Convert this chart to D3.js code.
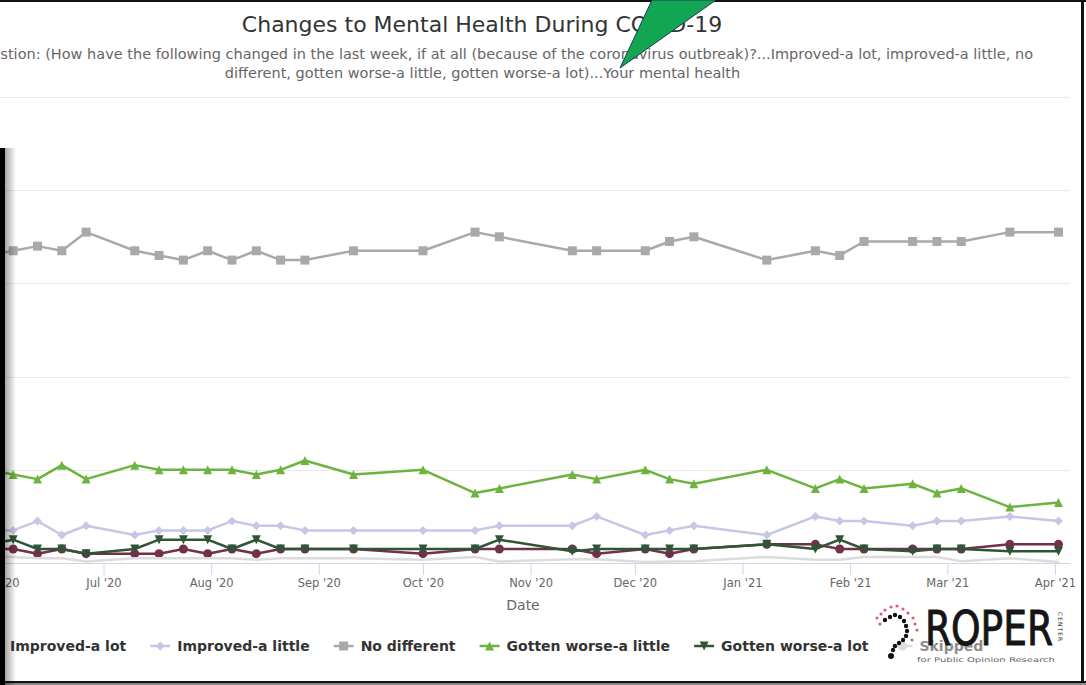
<!DOCTYPE html>
<html>
<head>
<meta charset="utf-8">
<script src="https://d3js.org/d3.v7.min.js"></script>
<style>
    body { margin: 0; background: #fff; }
    svg { display: block; font-family: "DejaVu Sans", sans-serif; }
    .grid line { stroke: #e9e9e9; stroke-width: 1; }
    .x.axis line { stroke: #ccd6eb; }
    .x.axis text { fill: #666; font-size: 11.5px; font-family: "DejaVu Sans", sans-serif; }
    .legend text { font-weight: bold; font-size: 14px; fill: #333; }
</style>
</head>
<body>
<div id="chart"></div>
<script>
    // survey waves (first one sits just left of the visible area)
    var dates = ["2020-05-29", "2020-06-05", "2020-06-12", "2020-06-19", "2020-06-26",
        "2020-07-10", "2020-07-17", "2020-07-24", "2020-07-31", "2020-08-07",
        "2020-08-14", "2020-08-21", "2020-08-28", "2020-09-11", "2020-10-01",
        "2020-10-16", "2020-10-23", "2020-11-13", "2020-11-20", "2020-12-04",
        "2020-12-11", "2020-12-18", "2021-01-08", "2021-01-22", "2021-01-29",
        "2021-02-05", "2021-02-19", "2021-02-26", "2021-03-05", "2021-03-19",
        "2021-04-02"];

    var improvedLot    = [3, 3, 2, 3, 2, 2, 2, 3, 2, 3, 2, 3, 3, 3, 2, 3, 3, 3, 2, 3, 2, 3, 4, 4, 3, 3, 3, 3, 3, 4, 4];
    var improvedLittle = [7, 7, 9, 6, 8, 6, 7, 7, 7, 9, 8, 8, 7, 7, 7, 7, 8, 8, 10, 6, 7, 8, 6, 10, 9, 9, 8, 9, 9, 10, 9];
    var noDifferent    = [66, 67, 68, 67, 71, 67, 66, 65, 67, 65, 67, 65, 65, 67, 67, 71, 70, 67, 67, 67, 69, 70, 65, 67, 66, 69, 69, 69, 69, 71, 71];
    var worseLittle    = [20, 19, 18, 21, 18, 21, 20, 20, 20, 20, 19, 20, 22, 19, 20, 15, 16, 19, 18, 20, 18, 17, 20, 16, 18, 16, 17, 15, 16, 12, 13];
    var worseLot       = [4, 5, 3, 3, 2, 3, 5, 5, 5, 3, 5, 3, 3, 3, 3, 3, 5, 2.5, 3, 3, 3, 3, 4, 3, 5, 3, 2.5, 3, 3, 2.5, 2.5];
    var skipped        = [1.3, 1.3, 1, 1, 0.3, 1, 1, 1, 1, 1, 0.7, 1, 1, 1, 0.7, 1.3, 0.3, 0.8, 0.8, 0.2, 0.3, 0.4, 1.3, 0.7, 0.7, 1.3, 1.3, 1.3, 0.4, 1, 0.2];

    var seriesNames = ["Improved-a lot", "Improved-a little", "No different",
        "Gotten worse-a little", "Gotten worse-a lot", "Skipped"];
    var seriesValues = [improvedLot, improvedLittle, noDifferent, worseLittle, worseLot, skipped];

    var yTicks = [0, 20, 40, 60, 80, 100];
    var monthTicks = ["2020-06-01", "2020-07-01", "2020-08-01", "2020-09-01", "2020-10-01",
        "2020-11-01", "2020-12-01", "2021-01-01", "2021-02-01", "2021-03-01", "2021-04-01"];

    // look of each series, same order as seriesNames
    var styles = [
        { color: "#72304b", marker: "circle" },
        { color: "#c9c5e6", marker: "diamond" },
        { color: "#a9a9a9", marker: "square" },
        { color: "#6cb43f", marker: "triangle" },
        { color: "#2f5634", marker: "triangle-down" },
        { color: "#dcdcdc", marker: null }
    ];

    var width = 1086, height = 685;
    var svg = d3.select("#chart").append("svg")
        .attr("width", width)
        .attr("height", height);

    var parse = d3.utcParse("%Y-%m-%d");
    var dateObjs = dates.map(parse);

    var x = d3.scaleUtc()
        .domain([parse("2020-07-01"), parse("2021-04-01")])
        .range([103.5, 1055]);
    var y = d3.scaleLinear()
        .domain([0, 100])
        .range([563, 97]);
    var plotRight = 1070;

    // horizontal grid
    svg.append("g").attr("class", "grid")
        .selectAll("line").data(yTicks).enter().append("line")
        .attr("x1", 0).attr("x2", plotRight)
        .attr("y1", function (d) { return Math.round(y(d)) + 0.5; })
        .attr("y2", function (d) { return Math.round(y(d)) + 0.5; });

    // x axis
    var xAxis = d3.axisBottom(x)
        .tickValues(monthTicks.map(parse))
        .tickSize(12)
        .tickSizeOuter(0)
        .tickPadding(4)
        .tickFormat(d3.utcFormat("%b '%y"));
    var gx = svg.append("g")
        .attr("class", "x axis")
        .attr("transform", "translate(0," + y(0) + ")")
        .call(xAxis);
    gx.select(".domain").remove();
    gx.append("line").attr("x1", 0).attr("x2", plotRight).attr("y1", 0.5).attr("y2", 0.5);

    svg.append("text")
        .attr("x", 523).attr("y", 610)
        .attr("text-anchor", "middle")
        .style("font-size", "14px").style("fill", "#666")
        .text("Date");

    // marker shapes, r is half the box size
    function markerPath(type, r) {
        if (type === "diamond") return "M0," + (-r) + "L" + r + ",0L0," + r + "L" + (-r) + ",0Z";
        if (type === "square") return "M" + (-r) + "," + (-r) + "h" + (2 * r) + "v" + (2 * r) + "h" + (-2 * r) + "Z";
        if (type === "triangle") return "M0," + (-r) + "L" + r + "," + r + "L" + (-r) + "," + r + "Z";
        if (type === "triangle-down") return "M" + (-r) + "," + (-r) + "L" + r + "," + (-r) + "L0," + r + "Z";
        return d3.symbol().type(d3.symbolCircle).size(Math.PI * r * r)();
    }

    var line = d3.line()
        .x(function (d, i) { return x(dateObjs[i]); })
        .y(function (d) { return y(d); });

    seriesValues.forEach(function (vals, k) {
        var st = styles[k];
        var g = svg.append("g").attr("class", "series");
        g.append("path")
            .attr("d", line(vals))
            .attr("fill", "none")
            .attr("stroke", st.color)
            .attr("stroke-width", 2.5)
            .attr("stroke-linejoin", "round")
            .attr("stroke-linecap", "round");
        if (st.marker) {
            g.selectAll("path.pt").data(vals).enter().append("path")
                .attr("class", "pt")
                .attr("d", markerPath(st.marker, 4.5))
                .attr("fill", st.color)
                .attr("transform", function (d, i) {
                    return "translate(" + x(dateObjs[i]) + "," + y(d) + ")";
                });
        }
    });

    // title and subtitle
    svg.append("text")
        .attr("x", 482).attr("y", 32)
        .attr("text-anchor", "middle")
        .style("font-size", "22px").style("fill", "#333")
        .text("Changes to Mental Health During COVID-19");
    svg.append("text")
        .attr("x", 1033).attr("y", 59)
        .attr("text-anchor", "end")
        .style("font-size", "14.5px").style("fill", "#666")
        .text("Question: (How have the following changed in the last week, if at all (because of the coronavirus outbreak)?...Improved-a lot, improved-a little, no");
    svg.append("text")
        .attr("x", 482.5).attr("y", 78)
        .attr("text-anchor", "middle")
        .style("font-size", "14.5px").style("fill", "#666")
        .text("different, gotten worse-a little, gotten worse-a lot)...Your mental health");

    // legend, laid out left to right
    var legend = svg.append("g").attr("class", "legend");
    var lx = -17, ly = 646;
    seriesNames.forEach(function (name, k) {
        var st = styles[k];
        var item = legend.append("g");
        item.append("line")
            .attr("x1", lx).attr("x2", lx + 20)
            .attr("y1", ly).attr("y2", ly)
            .attr("stroke", st.color).attr("stroke-width", 2.5);
        item.append("path")
            .attr("d", markerPath(st.marker || "circle", 4.5))
            .attr("fill", st.color)
            .attr("transform", "translate(" + (lx + 10) + "," + ly + ")");
        var t = item.append("text")
            .attr("x", lx + 27).attr("y", ly + 5)
            .text(name);
        if (name === "Skipped") t.style("fill", "#8c8c8c");
        lx += 27 + t.node().getComputedTextLength() + 24;
    });

    // Roper Center logo
    var logo = svg.append("g").attr("class", "logo");
    var pinkDots = [[877, 618], [881, 614], [885, 610], [891, 607], [897, 606], [903, 609],
        [908, 613], [913, 618], [915, 624], [917, 630], [880, 624], [912, 640]];
    var blackDots = [[885, 620], [890, 617], [895, 615], [900, 617], [904, 621], [906, 626],
        [907, 631], [906, 636], [903, 640], [899, 643], [895, 646], [893, 650]];
    logo.selectAll("circle.pink").data(pinkDots).enter().append("circle")
        .attr("class", "pink")
        .attr("cx", function (d) { return d[0]; }).attr("cy", function (d) { return d[1]; })
        .attr("r", 1.6).attr("fill", "#d9606f");
    logo.selectAll("circle.blk").data(blackDots).enter().append("circle")
        .attr("class", "blk")
        .attr("cx", function (d) { return d[0]; }).attr("cy", function (d) { return d[1]; })
        .attr("r", 2.2).attr("fill", "#111");
    logo.append("circle").attr("cx", 891).attr("cy", 656).attr("r", 3).attr("fill", "#111");
    logo.append("text")
        .attr("x", 925).attr("y", 645)
        .attr("textLength", 128).attr("lengthAdjust", "spacingAndGlyphs")
        .style("font-family", "'DejaVu Sans Condensed', 'Liberation Sans Narrow', sans-serif")
        .style("font-size", "48px").style("fill", "#151515")
        .style("stroke", "#151515").style("stroke-width", "0.9px")
        .text("ROPER");
    logo.append("text")
        .attr("transform", "translate(1058,612) rotate(90)")
        .style("font-size", "6px").style("fill", "#444").style("letter-spacing", "1px")
        .text("CENTER");
    logo.append("text")
        .attr("x", 917).attr("y", 662)
        .attr("textLength", 138).attr("lengthAdjust", "spacingAndGlyphs")
        .style("font-size", "6.5px").style("fill", "#666")
        .text("for Public Opinion Research");

    // window frame of the screenshot
    var defs = svg.append("defs");
    var grad = defs.append("linearGradient").attr("id", "shade");
    grad.append("stop").attr("offset", "0%").attr("stop-color", "#000").attr("stop-opacity", 0.35);
    grad.append("stop").attr("offset", "100%").attr("stop-color", "#000").attr("stop-opacity", 0);
    svg.append("rect").attr("x", 0).attr("y", 0).attr("width", width).attr("height", 2).attr("fill", "#111");
    svg.append("rect").attr("x", 1081).attr("y", 0).attr("width", 3).attr("height", height).attr("fill", "#111");
    svg.append("rect").attr("x", 0).attr("y", 681).attr("width", width).attr("height", 4).attr("fill", "#888");
    svg.append("rect").attr("x", 0).attr("y", 681).attr("width", width).attr("height", 2).attr("fill", "#111");
    svg.append("rect").attr("x", 5).attr("y", 148).attr("width", 11).attr("height", height - 148).attr("fill", "url(#shade)");
    svg.append("rect").attr("x", 0).attr("y", 148).attr("width", 5).attr("height", height - 148).attr("fill", "#000");

    // green pointer arrow
    svg.append("polygon")
        .attr("points", "652,0 716,0 620,68")
        .attr("fill", "#12a552")
        .attr("stroke", "#1d3b55")
        .attr("stroke-width", 1);
</script>
</body>
</html>
